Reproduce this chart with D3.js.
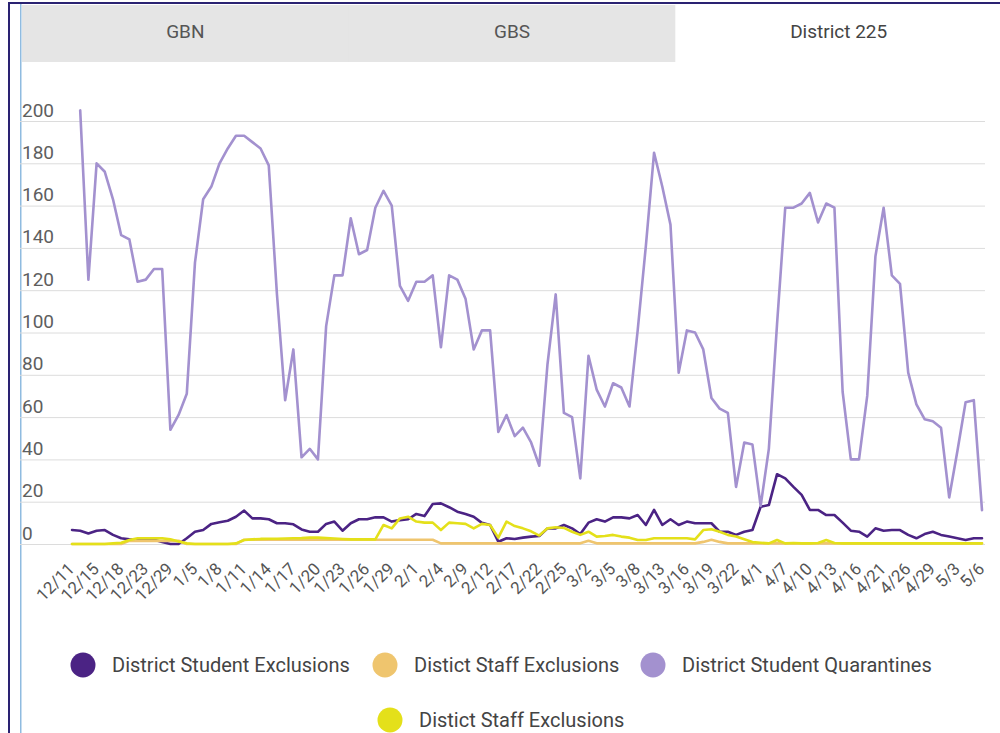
<!DOCTYPE html>
<html>
<head>
<meta charset="utf-8">
<script src="https://cdn.jsdelivr.net/npm/d3@7"></script>
<style>
  body { margin: 0; background: #fff; font-family: Roboto, "Noto Sans", sans-serif; }
  svg { display: block; }
</style>
</head>
<body>
<div id="chart"></div>
<script>
// tabs above the chart
const tabs = ["GBN", "GBS", "District 225"];

// x axis labels, one every third school day
const dateLabels = ["12/11", "12/15", "12/18", "12/23", "12/29", "1/5", "1/8", "1/11", "1/14", "1/17",
  "1/20", "1/23", "1/26", "1/29", "2/1", "2/4", "2/9", "2/12", "2/17", "2/22",
  "2/25", "3/2", "3/5", "3/8", "3/13", "3/16", "3/19", "3/22", "4/1", "4/7",
  "4/10", "4/13", "4/16", "4/21", "4/26", "4/29", "5/3", "5/6"];

const yTicks = [0, 20, 40, 60, 80, 100, 120, 140, 160, 180, 200];

// series values (112 days)
const studentExclusions = [
  6.6, 6.3, 5, 6.3, 6.6, 4.3, 2.7, 2.2, 2, 2,
  2, 1, 0, 0, 2.7, 5.8, 6.6, 9.5, 10.3, 11,
  12.9, 15.8, 12.1, 12.1, 11.7, 9.8, 9.8, 9.3, 6.9, 5.8,
  5.8, 9.5, 10.6, 6.3, 9.8, 11.7, 11.7, 12.6, 12.6, 10.6,
  11.3, 11.7, 14.2, 13.2, 18.9, 19.2, 17.4, 15.3, 14.2, 12.9,
  10, 9, 1.1, 2.7, 2.4, 3, 3.5, 3.8, 7.4, 7.4,
  9, 7.4, 4.7, 10.1, 11.7, 10.6, 12.6, 12.6, 12.1, 13.7,
  9, 16.1, 9, 11.7, 9, 10.6, 9.8, 9.8, 9.8, 5.8,
  5.8, 4.3, 5.8, 6.6, 17.6, 18.4, 33, 31, 27, 23.2,
  16.1, 16.1, 13.7, 13.7, 10.1, 6.3, 5.8, 3.5, 7.4, 6.3,
  6.6, 6.6, 4.3, 2.7, 4.7, 5.8, 4.3, 3.5, 2.7, 1.9,
  2.7, 2.7];

const staffExclusions = [
  0, 0, 0, 0, 0, 0, 0, 1.5, 1.5, 1.5,
  1.5, 1.5, 1.5, 1.5, 0, 0, 0, 0, 0, 0,
  0, 2, 2, 2, 2, 2, 2, 2, 2, 2,
  2, 2, 2, 2, 2, 2, 2, 2, 2, 2,
  2, 2, 2, 2, 2, 0.3, 0.3, 0.3, 0.3, 0.3,
  0.3, 0.3, 0.3, 0.3, 0.3, 0.3, 0.3, 0.3, 0.3, 0.3,
  0.3, 0.3, 0.3, 1.5, 0.3, 0.3, 0.3, 0.3, 0.3, 0.3,
  0.3, 0.3, 0.3, 0.3, 0.3, 0.3, 0.3, 1, 2, 1,
  0.3, 0.3, 0.3, 0.3, 0.3, 0.3, 0.3, 0.3, 0.3, 0.3,
  0.3, 0.3, 0.3, 0.3, 0.3, 0.3, 0.3, 0.3, 0.3, 0.3,
  0.3, 0.3, 0.3, 0.3, 0.3, 0.3, 0.3, 0.3, 0.3, 0.3,
  0.3, 0.3];

const studentQuarantines = [
  null, 205, 125, 180, 176, 163, 146, 144, 124, 125,
  130, 130, 54, 61, 71, 133, 163, 169, 180, 187,
  193, 193, 190, 187, 179, 118, 68, 92, 41, 45,
  40, 103, 127, 127, 154, 137, 139, 159, 167, 160,
  122, 115, 124, 124, 127, 93, 127, 125, 116, 92,
  101, 101, 53, 61, 51, 55, 48, 37, 85, 118,
  62, 60, 31, 89, 73, 65, 76, 74, 65, 101,
  141, 185, 169, 151, 81, 101, 100, 92, 69, 64,
  62, 27, 48, 47, 18, 45, 104, 159, 159, 161,
  166, 152, 161, 159, 72, 40, 40, 70, 136, 159,
  127, 123, 81, 66, 59, 58, 55, 22, 44, 67,
  68, 16];

const staffExclusions2 = [
  0, 0, 0, 0, 0, 0.3, 0.6, 1.9, 2.7, 2.7,
  2.7, 2.7, 2.2, 1.2, 0.3, 0, 0, 0, 0, 0,
  0.3, 1.9, 2.2, 2.4, 2.5, 2.5, 2.6, 2.7, 2.8, 3,
  3, 2.8, 2.6, 2.4, 2.2, 2.2, 2.2, 2.2, 9, 7.4,
  12.1, 12.9, 10.6, 10.1, 10.1, 6.6, 10.1, 9.8, 9.5, 7.4,
  9.5, 9, 3, 10.6, 8.5, 7.4, 6, 4, 7.4, 7.9,
  7.6, 5.8, 4.3, 5.8, 3.5, 3.8, 4.3, 3.5, 3, 1.9,
  1.9, 2.7, 2.7, 2.7, 2.7, 2.7, 2.2, 6.6, 7, 5.8,
  4.3, 3.5, 2.2, 0.9, 0.6, 0.3, 1.9, 0.3, 0.5, 0.3,
  0.3, 0.5, 1.9, 0.5, 0.3, 0.3, 0.3, 0.3, 0.3, 0.3,
  0.3, 0.3, 0.3, 0.3, 0.3, 0.3, 0.3, 0.3, 0.3, 0.3,
  0.3, 0.3];

const seriesNames = ["District Student Exclusions", "Distict Staff Exclusions",
  "District Student Quarantines", "Distict Staff Exclusions"];
const seriesColors = ["#4b2384", "#efc56e", "#a391cf", "#e4e01a"];
const seriesValues = [studentExclusions, staffExclusions, studentQuarantines, staffExclusions2];

const width = 1000, height = 733;

const svg = d3.select("#chart").append("svg")
  .attr("width", width)
  .attr("height", height);

// window frame
svg.append("rect").attr("x", 8).attr("y", 2).attr("width", 992).attr("height", 2).attr("fill", "#2a2272");
svg.append("rect").attr("x", 8).attr("y", 2).attr("width", 2).attr("height", height).attr("fill", "#2a2272");
svg.append("rect").attr("x", 20).attr("y", 4).attr("width", 1.5).attr("height", height).attr("fill", "#8fbbe0");

// tab bar
const tabX = d3.scaleBand().domain(tabs).range([22, 1002]);
const tab = svg.append("g").attr("class", "tabs")
  .selectAll("g").data(tabs).enter().append("g");
tab.append("rect")
  .attr("x", d => tabX(d))
  .attr("y", 5)
  .attr("width", (d, i) => tabX.bandwidth() + (i < 2 ? 2 : 0))
  .attr("height", 57)
  .attr("fill", (d, i) => i === 2 ? "#ffffff" : "#e5e5e5");
tab.append("text")
  .attr("x", d => tabX(d) + tabX.bandwidth() / 2)
  .attr("y", 38)
  .attr("text-anchor", "middle")
  .attr("font-size", "19px")
  .attr("fill", (d, i) => i === 2 ? "#444" : "#555")
  .text(d => d);

// scales
const n = studentExclusions.length;
const x = d3.scalePoint().domain(d3.range(n)).range([72, 982]);
const y = d3.scaleLinear().domain([0, 200]).range([544, 121]);

// horizontal grid + y labels
const yAxis = svg.append("g")
  .attr("transform", "translate(20,0)")
  .call(d3.axisRight(y).tickValues(yTicks).tickSize(965).tickFormat(d3.format("d")));
yAxis.select(".domain").remove();
yAxis.selectAll("line").attr("stroke", "#dcdcdc");
yAxis.selectAll("text")
  .attr("x", 2)
  .attr("dy", -5)
  .attr("text-anchor", "start")
  .attr("font-size", "19px")
  .attr("font-family", "Roboto, sans-serif")
  .attr("fill", "#5e5e5e");

// x labels
const tickIdx = d3.range(0, n, 3);
const xAxis = svg.append("g")
  .attr("transform", "translate(0,544)")
  .call(d3.axisBottom(x).tickValues(tickIdx).tickSize(0)
    .tickFormat((d, i) => dateLabels[i]));
xAxis.select(".domain").remove();
xAxis.selectAll("text")
  .attr("y", 0)
  .attr("dy", null)
  .attr("text-anchor", "end")
  .attr("transform", "translate(3,26) rotate(-45)")
  .attr("font-size", "17px")
  .attr("font-family", "Roboto, sans-serif")
  .attr("fill", "#555");

// lines
const line = d3.line()
  .defined(d => d != null)
  .x((d, i) => x(i))
  .y(d => y(d));

svg.append("g").attr("class", "lines")
  .selectAll("path")
  .data(seriesValues)
  .enter().append("path")
  .attr("d", line)
  .attr("fill", "none")
  .attr("stroke", (d, i) => seriesColors[i])
  .attr("stroke-width", 2.6)
  .attr("stroke-linejoin", "round")
  .attr("stroke-linecap", "round");

// legend
const legendPos = [[83, 665], [385, 665], [653, 665], [390, 720]];
const legend = svg.append("g").attr("class", "legend")
  .selectAll("g").data(seriesNames).enter().append("g")
  .attr("transform", (d, i) => `translate(${legendPos[i][0]},${legendPos[i][1]})`);
legend.append("circle")
  .attr("r", 12.5)
  .attr("fill", (d, i) => seriesColors[i]);
legend.append("text")
  .attr("x", 29)
  .attr("y", 7)
  .attr("font-size", "20px")
  .attr("fill", "#444")
  .text(d => d);
</script>
</body>
</html>
